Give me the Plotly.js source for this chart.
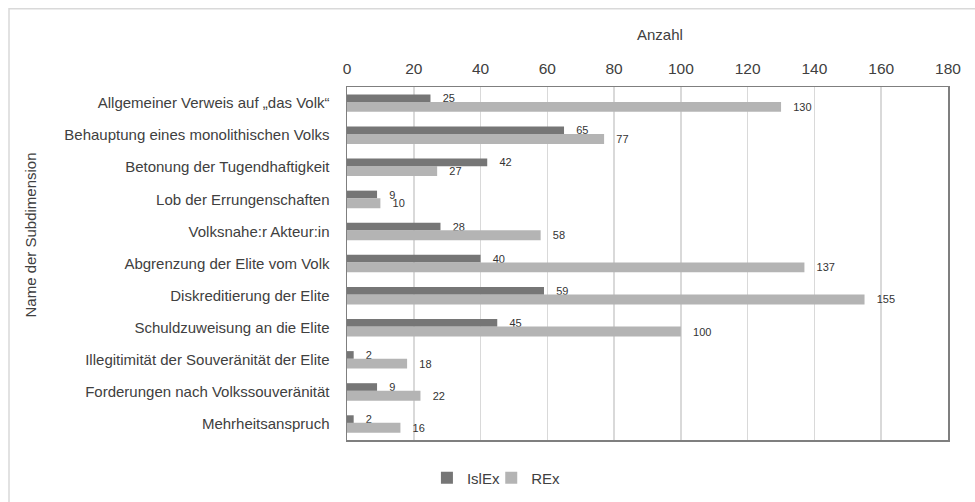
<!DOCTYPE html>
<html>
<head>
<meta charset="utf-8">
<script src="https://cdn.plot.ly/plotly-3.0.1.min.js"></script>
<style>
html,body{margin:0;padding:0;background:#fff;}
#chart{width:975px;height:502px;}
</style>
</head>
<body>
<div id="chart"></div>
<script>
const categories = [
  "Allgemeiner Verweis auf „das Volk“",
  "Behauptung eines monolithischen Volks",
  "Betonung der Tugendhaftigkeit",
  "Lob der Errungenschaften",
  "Volksnahe:r Akteur:in",
  "Abgrenzung der Elite vom Volk",
  "Diskreditierung der Elite",
  "Schuldzuweisung an die Elite",
  "Illegitimität der Souveränität der Elite",
  "Forderungen nach Volkssouveränität",
  "Mehrheitsanspruch"
];
const islex = [25, 65, 42, 9, 28, 40, 59, 45, 2, 9, 2];
const rex = [130, 77, 27, 10, 58, 137, 155, 100, 18, 22, 16];
const xTicks = [0, 20, 40, 60, 80, 100, 120, 140, 160, 180];

const pad = '\u00a0\u00a0\u00a0';
const labelFont = {family: 'Liberation Sans, Arial, sans-serif', size: 11, color: '#333333'};

const traces = [
  {
    type: 'bar', orientation: 'h', name: 'IslEx', legend: 'legend',
    y: categories, x: islex,
    marker: {color: '#767676'},
    width: 0.24, offset: -0.27,
    text: islex.map(v => pad + v), textposition: 'outside',
    textfont: labelFont, outsidetextfont: labelFont, constraintext: 'none', cliponaxis: false,
    hoverinfo: 'x+y'
  },
  {
    type: 'bar', orientation: 'h', name: 'REx', legend: 'legend2',
    y: categories, x: rex,
    marker: {color: '#b4b4b4'},
    width: 0.31, offset: -0.035,
    text: rex.map(v => pad + v), textposition: 'outside',
    textfont: labelFont, outsidetextfont: labelFont, constraintext: 'none', cliponaxis: false,
    hoverinfo: 'x+y'
  }
];

const legendBase = {
  orientation: 'h', xanchor: 'left', y: -0.108, yanchor: 'middle',
  font: {size: 15, color: '#404040'}, itemwidth: 30, bgcolor: 'rgba(0,0,0,0)'
};

const layout = {
  width: 975, height: 502,
  margin: {l: 347, r: 27, t: 86.5, b: 61.5, pad: 0, autoexpand: false},
  paper_bgcolor: '#ffffff', plot_bgcolor: '#ffffff',
  font: {family: 'Liberation Sans, Arial, sans-serif', size: 15, color: '#404040'},
  barmode: 'overlay',
  showlegend: true,
  legend: Object.assign({}, legendBase, {x: 0.133}),
  legend2: Object.assign({}, legendBase, {x: 0.24}),
  xaxis: {
    side: 'top', range: [0, 180], tickvals: xTicks, ticktext: xTicks.map(String),
    showgrid: true, gridcolor: '#d9d9d9', gridwidth: 1.5,
    showline: true, mirror: true, linecolor: '#7f7f7f', linewidth: 1.5,
    zeroline: false, ticks: '', ticklabelstandoff: 5,
    tickfont: {size: 15.5, color: '#404040'}
  },
  yaxis: {
    type: 'category', autorange: 'reversed',
    showgrid: false, showline: true, mirror: true, linecolor: '#7f7f7f', linewidth: 1.5,
    zeroline: false, ticks: '', ticklabelstandoff: 13,
    tickfont: {size: 15, color: '#404040'}
  },
  annotations: [
    {text: 'Anzahl', xref: 'paper', yref: 'paper', x: 0.52, y: 1.148, showarrow: false,
     xanchor: 'center', yanchor: 'middle', font: {size: 15, color: '#404040'}},
    {text: 'Name der Subdimension', xref: 'paper', yref: 'paper', x: -0.527, y: 0.58, showarrow: false,
     textangle: -90, xanchor: 'center', yanchor: 'middle', font: {size: 15, color: '#404040'}}
  ],
  shapes: [
    {type: 'rect', xref: 'paper', yref: 'paper', x0: -0.5624, x1: 1.2, y0: -0.3, y1: 1.2218,
     line: {color: '#d9d9d9', width: 1.5}, fillcolor: 'rgba(0,0,0,0)', layer: 'below'}
  ]
};

Plotly.newPlot('chart', traces, layout, {displayModeBar: false, staticPlot: true});
</script>
</body>
</html>
